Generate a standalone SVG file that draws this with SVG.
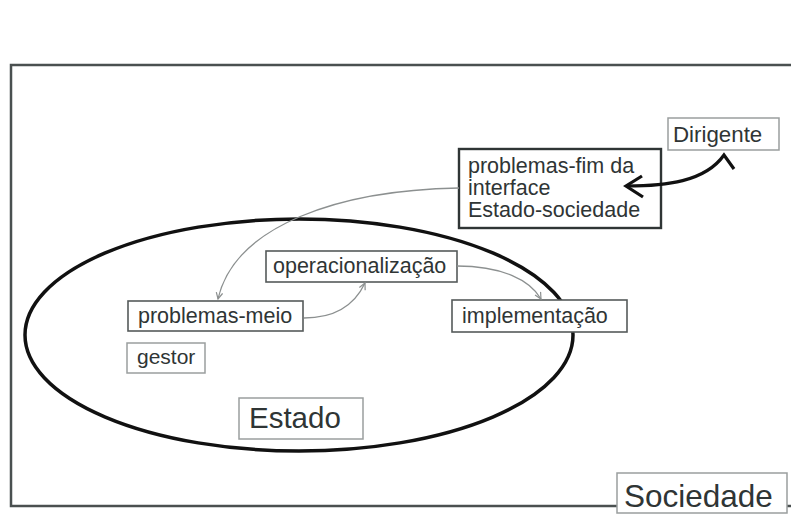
<svg xmlns="http://www.w3.org/2000/svg" width="791" height="525" viewBox="0 0 791 525">
<defs>
<style>
text{font-family:"Liberation Sans",Arial,sans-serif;fill:#2f3535;}
.box{fill:#fff;stroke:#555a5a;stroke-width:1.6;}
.light{fill:#fff;stroke:#9a9e9e;stroke-width:1.5;}
.dark{fill:#fff;stroke:#2f3535;stroke-width:2.4;}
.conn{fill:none;stroke:#8c9090;stroke-width:1.3;}
</style>
<marker id="ga" viewBox="0 0 10 10" refX="9" refY="5" markerWidth="8" markerHeight="8" markerUnits="userSpaceOnUse" orient="auto">
<path d="M1,1 L9,5 L1,9" fill="none" stroke="#8c9090" stroke-width="1.5"/>
</marker>
</defs>
<rect width="791" height="525" fill="#fff"/>
<rect id="sociedade-frame" x="11" y="65" width="800" height="441" fill="none" stroke="#4a5050" stroke-width="2.5"/>
<ellipse id="estado-ellipse" cx="299" cy="335" rx="274" ry="116" fill="none" stroke="#111" stroke-width="3.5"/>
<g id="node-dirigente">
<rect class="light" x="668" y="118" width="111" height="32"/>
<text x="673" y="142" font-size="22.3">Dirigente</text>
</g>
<g id="node-problemas-fim">
<rect class="dark" x="459" y="149" width="202" height="79"/>
<text x="468" y="173" font-size="21.5">problemas-fim da</text>
<text x="468" y="195" font-size="21.5">interface</text>
<text x="468" y="217" font-size="21.5">Estado-sociedade</text>
</g>
<g id="node-operacionalizacao">
<rect class="box" x="266" y="251" width="191" height="31"/>
<text x="273" y="273" font-size="21.5">operacionalização</text>
</g>
<g id="node-problemas-meio">
<rect class="box" x="128" y="301" width="175" height="30"/>
<text x="138" y="323" font-size="21.5">problemas-meio</text>
</g>
<g id="node-implementacao">
<rect class="box" x="452" y="300" width="175" height="32"/>
<text x="462" y="323" font-size="21.5">implementação</text>
</g>
<g id="node-gestor">
<rect class="light" x="127" y="343" width="78" height="30"/>
<text x="137" y="364" font-size="21">gestor</text>
</g>
<g id="node-estado">
<rect class="light" x="239" y="398" width="124" height="41"/>
<text x="249" y="428" font-size="29.5">Estado</text>
</g>
<g id="node-sociedade">
<rect class="light" x="617" y="473" width="170" height="40"/>
<text x="624" y="507" font-size="31.5">Sociedade</text>
</g>
<g id="connectors">
<path class="conn" d="M459,188 C340,190 235,225 218,299" marker-end="url(#ga)"/>
<path class="conn" d="M304,318 C338,318 356,302 365,283" marker-end="url(#ga)"/>
<path class="conn" d="M457,266 C502,266 530,280 541,299" marker-end="url(#ga)"/>
<path d="M627,186 C665,186 705,182 724,155 L734,169" fill="none" stroke="#111" stroke-width="3.2" stroke-linejoin="miter"/>
<path d="M642,176 L626,186 L643,197" fill="none" stroke="#111" stroke-width="3.2"/>
</g>
</svg>
